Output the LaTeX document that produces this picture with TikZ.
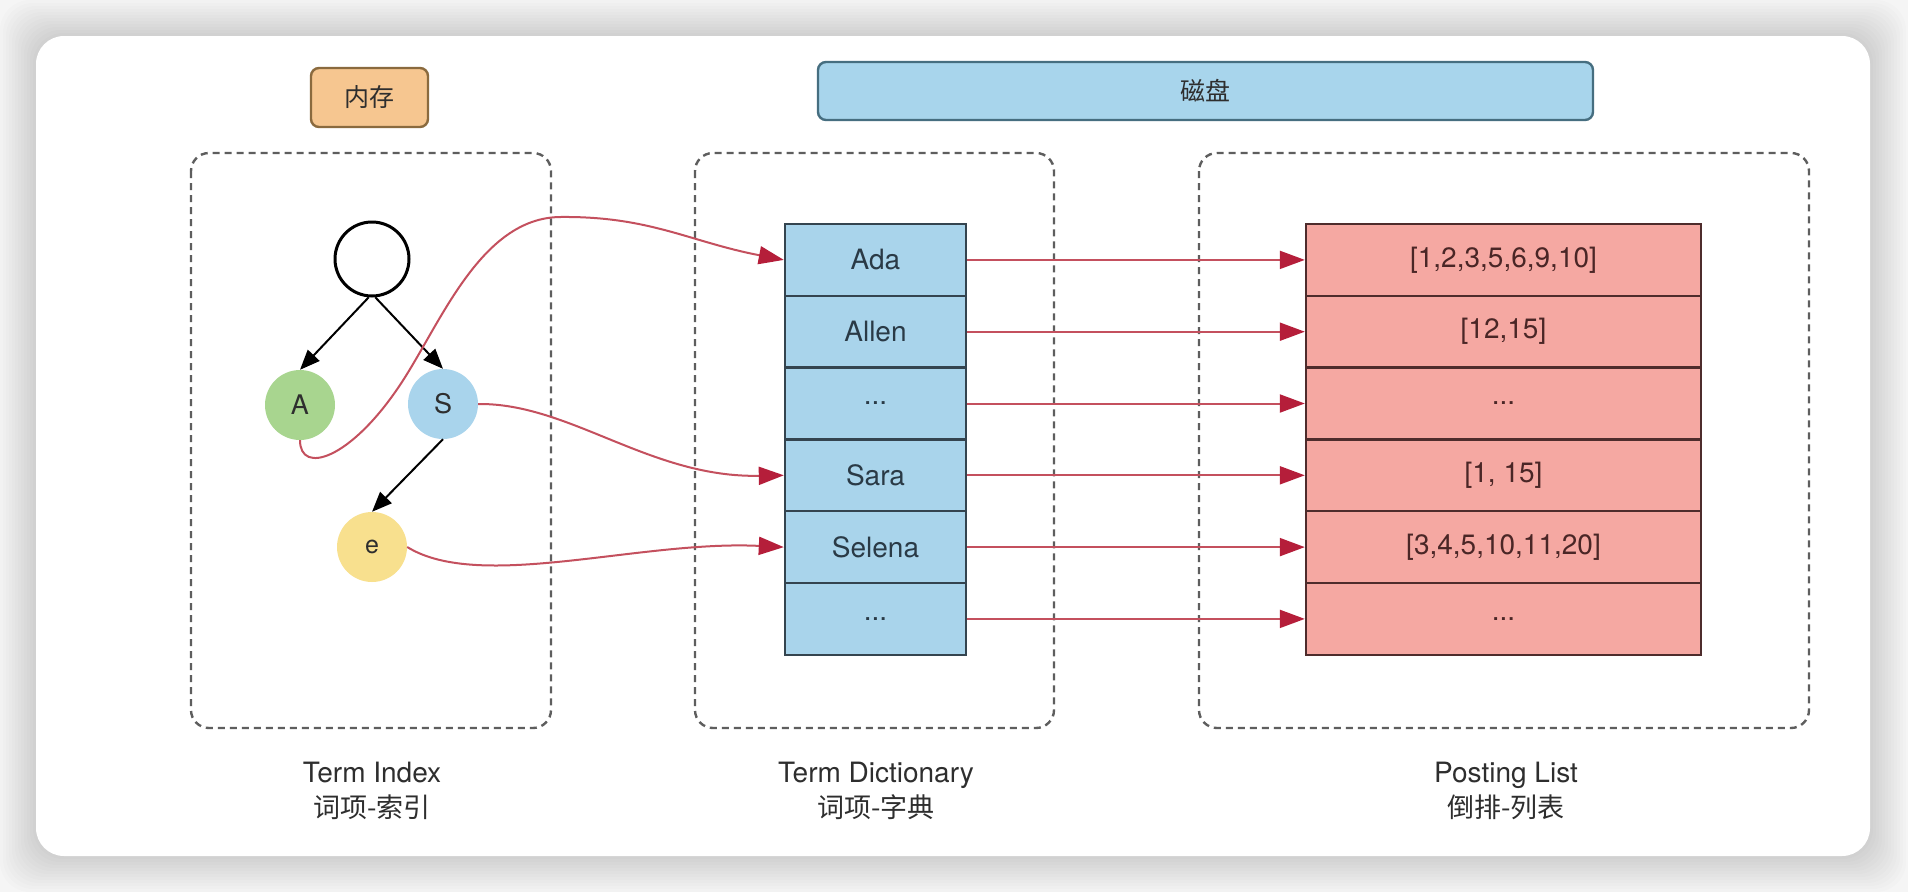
\documentclass[tikz,border=0pt]{standalone}
\usepackage{fontspec}
\setmainfont{TeX Gyre Heros}
\newfontfamily\cjk{Noto Sans CJK SC}
\usetikzlibrary{arrows.meta}
\definecolor{bgcol}{HTML}{F5F5F5}
\definecolor{dashcol}{HTML}{5E5E5E}
\definecolor{memfill}{HTML}{F6C690}
\definecolor{memline}{HTML}{8A6A3E}
\definecolor{diskfill}{HTML}{A8D5EC}
\definecolor{diskline}{HTML}{466E80}
\definecolor{dictfill}{HTML}{A9D4EB}
\definecolor{dictline}{HTML}{34444F}
\definecolor{dicttext}{HTML}{2A3A46}
\definecolor{postfill}{HTML}{F5A8A2}
\definecolor{postline}{HTML}{4E2C2C}
\definecolor{posttext}{HTML}{4A2626}
\definecolor{greenfill}{HTML}{A8D58F}
\definecolor{bluefill}{HTML}{A9D4EC}
\definecolor{yellowfill}{HTML}{F8E08E}
\definecolor{redline}{HTML}{C4505E}
\definecolor{redhead}{HTML}{B51E3A}
\definecolor{textcol}{HTML}{2E2E2E}
\begin{document}
\begin{tikzpicture}[x=1pt,y=-1pt,
  dbox/.style={draw=dashcol, line width=2.4pt, dash pattern=on 7pt off 5pt, rounded corners=18pt},
  tagbox/.style={line width=2.4pt, rounded corners=8pt, inner sep=0pt, text=textcol, font=\cjk\fontsize{25}{28}\selectfont},
  dictrow/.style={draw=dictline, fill=dictfill, line width=2.4pt, minimum width=181pt, minimum height=71.8pt, inner sep=0pt, text=dicttext, font=\fontsize{28}{32}\selectfont},
  postrow/.style={draw=postline, fill=postfill, line width=2.4pt, minimum width=395pt, minimum height=71.8pt, inner sep=0pt, text=posttext, font=\fontsize{28}{32}\selectfont},
  treenode/.style={circle, minimum size=70pt, inner sep=0pt, text=textcol, font=\fontsize{27}{30}\selectfont},
  treearrow/.style={draw=black, line width=2pt, -{Triangle[length=20pt,width=16pt]}},
  redarrow/.style={draw=redline, line width=2pt, -{Triangle[length=25pt,width=18pt,color=redhead]}},
  labtext/.style={anchor=base, text=textcol, font=\fontsize{28}{32}\selectfont},
  labcjk/.style={anchor=base, text=textcol, font=\cjk\fontsize{27}{30}\selectfont}
]
\useasboundingbox (0,0) rectangle (1908,892);
% background and card with soft shadow
\fill[bgcol] (0,0) rectangle (1908,892);
\foreach \i in {1,...,12}
  \fill[black, opacity=0.012, rounded corners=30pt] (36-\i*3, 36-\i*3) rectangle (1870+\i*3, 856+\i*3);
\fill[white, rounded corners=28pt] (36,36) rectangle (1870,856);

% top tags
\node[tagbox, draw=memline, fill=memfill, minimum width=117pt, minimum height=59pt] (mem) at (369.5,97.5) {内存};
\node[tagbox, draw=diskline, fill=diskfill, minimum width=775pt, minimum height=58pt] (disk) at (1205.5,91) {磁盘};

% dashed groups
\draw[dbox] (191,153) rectangle (551,728);
\draw[dbox] (695,153) rectangle (1054,728);
\draw[dbox] (1199,153) rectangle (1809,728);

% tree
\node[circle, draw=black, line width=3pt, minimum size=74pt, inner sep=0pt] (root) at (372,259) {};
\node[treenode, fill=greenfill] (A) at (300,405) {A};
\node[treenode, fill=bluefill] (S) at (443,404) {S};
\node[treenode, fill=yellowfill, font=\fontsize{25}{28}\selectfont] (e) at (372,547) {e};
\draw[treearrow] (root.-95) -- (A.north);
\draw[treearrow] (root.-85) -- (S.north);
\draw[treearrow] (S.south) -- (e.north);

% term dictionary
\node[dictrow] (d1) at (875.5,259.9) {Ada};
\node[dictrow] (d2) at (875.5,331.7) {Allen};
\node[dictrow] (d3) at (875.5,403.5) {...};
\node[dictrow] (d4) at (875.5,475.3) {Sara};
\node[dictrow] (d5) at (875.5,547.1) {Selena};
\node[dictrow] (d6) at (875.5,618.9) {...};

% posting list
\node[postrow] (p1) at (1503.5,259.9) {[1,2,3,5,6,9,10]};
\node[postrow] (p2) at (1503.5,331.7) {[12,15]};
\node[postrow] (p3) at (1503.5,403.5) {...};
\node[postrow] (p4) at (1503.5,475.3) {[1, 15]};
\node[postrow] (p5) at (1503.5,547.1) {[3,4,5,10,11,20]};
\node[postrow] (p6) at (1503.5,618.9) {...};

% straight connectors
\foreach \k in {1,...,6}
  \draw[redarrow] (d\k.east) -- (p\k.west);

% curved connectors from the tree
\draw[redarrow] (A.south) .. controls (300,475) and (350,460) .. (400,385)
  .. controls (440,325) and (480,218) .. (560,217)
  .. controls (650,216) and (690,242) .. (d1.west);
\draw[redarrow] (S.east) .. controls (570,403) and (650,478) .. (d4.west);
\draw[redarrow] (e.east) .. controls (480,592) and (640,540) .. (d5.west);

% captions
\node[labtext] (l1) at (372,782) {Term Index};
\node[labcjk] (c1) at (372,817) {词项-索引};
\node[labtext] (l2) at (876,782) {Term Dictionary};
\node[labcjk] (c2) at (876,817) {词项-字典};
\node[labtext] (l3) at (1506,782) {Posting List};
\node[labcjk] (c3) at (1506,817) {倒排-列表};
\end{tikzpicture}
\end{document}
